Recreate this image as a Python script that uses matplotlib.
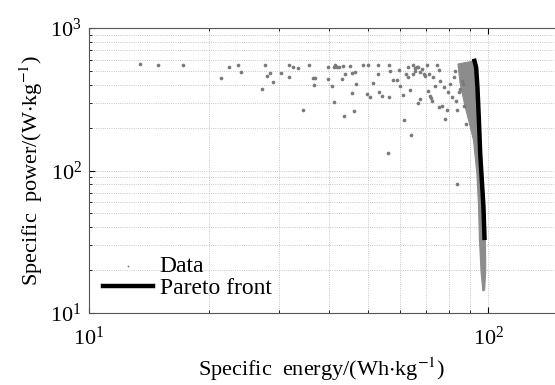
import matplotlib.pyplot as plt
from matplotlib.ticker import LogLocator, NullFormatter

plt.rcParams['font.family'] = ['Liberation Serif', 'DejaVu Serif']
plt.rcParams['mathtext.fontset'] = 'stix'

# Scattered design points (energy Wh/kg, power W/kg)
data_x = [13.4, 14.9, 17.2, 22.4, 23.6, 24.0, 21.4, 27.6, 28.4, 27.9, 29.0, 27.2, 30.2, 31.7, 31.8, 32.5,
          33.5, 34.3, 35.6, 36.5, 36.7, 36.8, 39.6, 39.6, 40.7, 41.0, 41.4, 41.8, 42.2, 43.4, 43.8, 45.1,
          45.5, 46.4, 43.0, 41.0, 43.6, 45.7, 46.2, 46.6, 48.5, 50.0, 49.8, 50.6, 51.6, 53.1, 52.9, 53.4,
          54.1, 56.3, 56.3, 56.8, 57.9, 59.0, 59.9, 60.2, 61.6, 61.3, 62.3, 63.8, 64.0, 64.7, 65.4, 66.3,
          66.9, 67.5, 68.2, 68.9, 69.5, 70.2, 70.5, 70.9, 71.6, 72.0, 72.2, 72.9, 73.6, 74.4, 75.1, 75.5,
          75.8, 76.5, 77.3, 78.0, 78.8, 79.2, 80.3, 81.1, 81.9, 82.7, 83.1, 83.5, 84.3, 85.1, 85.9, 86.7,
          87.2, 87.9, 66.9, 67.5, 65.0, 63.1, 56.0, 83.5, 63.1, 65.6]
data_y = [558, 549, 552, 529, 549, 488, 446, 549, 481, 463, 420, 374, 483, 549, 451, 529,
          524, 264, 549, 446, 401, 446, 529, 439, 394, 529, 549, 529, 529, 538, 475, 538,
          483, 488, 439, 303, 241, 349, 261, 405, 549, 549, 345, 330, 412, 549, 475, 354,
          336, 549, 330, 502, 434, 434, 510, 394, 225, 341, 475, 370, 179, 549, 502, 529,
          535, 488, 515, 475, 463, 549, 360, 475, 336, 323, 310, 451, 394, 549, 507, 279,
          427, 286, 384, 231, 264, 354, 405, 327, 451, 502, 310, 264, 358, 374, 427, 405,
          286, 213, 297, 318, 475, 451, 132, 81, 529, 521]

# Outline of the dense cloud of points next to the front
cloud_x = [84.0, 85.1, 87.6, 89.8, 91.9, 93.7, 94.6, 95.1, 96.0, 97.0, 98.0, 98.6, 98.4,
           97.9, 97.3, 96.4, 95.5, 94.8, 94.0, 93.3, 92.4, 88.5]
cloud_y = [560, 405, 279, 213, 163, 95.5, 56, 32.8, 19.2, 14.3, 14.5, 20, 33.7,
           33.7, 56, 85.9, 132, 225, 384, 529, 589, 575]

# Pareto front
pareto_x = [92.4, 93.3, 94.0, 94.8, 95.5, 96.4, 97.3, 97.9]
pareto_y = [589, 529, 384, 225, 132, 85.9, 56, 33.7]

fig = plt.figure(figsize=(5.55, 3.85), dpi=100)
ax = fig.add_axes([0.160, 0.187, 0.840, 0.740])

ax.fill(cloud_x, cloud_y, color='#8c8c8c', lw=0.8, ec='#8c8c8c', zorder=2)
ax.scatter(data_x, data_y, s=7, color='#7a7a7a', marker='o', lw=0, zorder=3, label='Data')
ax.plot(pareto_x, pareto_y, color='black', lw=3.2, zorder=4, label='Pareto front')

ax.set_xscale('log')
ax.set_yscale('log')
ax.set_xlim(10, 147)
ax.set_ylim(10, 1000)
ax.yaxis.set_minor_locator(LogLocator(base=10, subs=range(2, 10)))
ax.xaxis.set_minor_locator(LogLocator(base=10, subs=range(2, 10)))
ax.xaxis.set_minor_formatter(NullFormatter())
ax.yaxis.set_minor_formatter(NullFormatter())

ax.grid(True, which='both', ls=':', lw=0.6, color='#b5b5b5')
ax.tick_params(which='both', direction='in', top=True, right=False, labelsize=16)
ax.tick_params(which='major', length=4)
ax.tick_params(which='minor', length=2)
ax.tick_params(axis='x', pad=10)
ax.tick_params(axis='y', pad=5)
for s in ['left', 'bottom', 'top']:
    ax.spines[s].set_color('#555555')
ax.spines['right'].set_visible(False)

ax.set_xlabel(r'Specific  energy/(Wh$\cdot$kg$^{-1}$)', fontsize=16, labelpad=4)
ax.set_ylabel(r'Specific  power/(W$\cdot$kg$^{-1}$)', fontsize=16, labelpad=4)

leg = ax.legend(loc='lower left', frameon=False, fontsize=17, handlelength=2.1,
                handletextpad=0.3, labelspacing=0.0, borderaxespad=0.2, markerscale=0.5)

fig.savefig('out.png', dpi=100)
